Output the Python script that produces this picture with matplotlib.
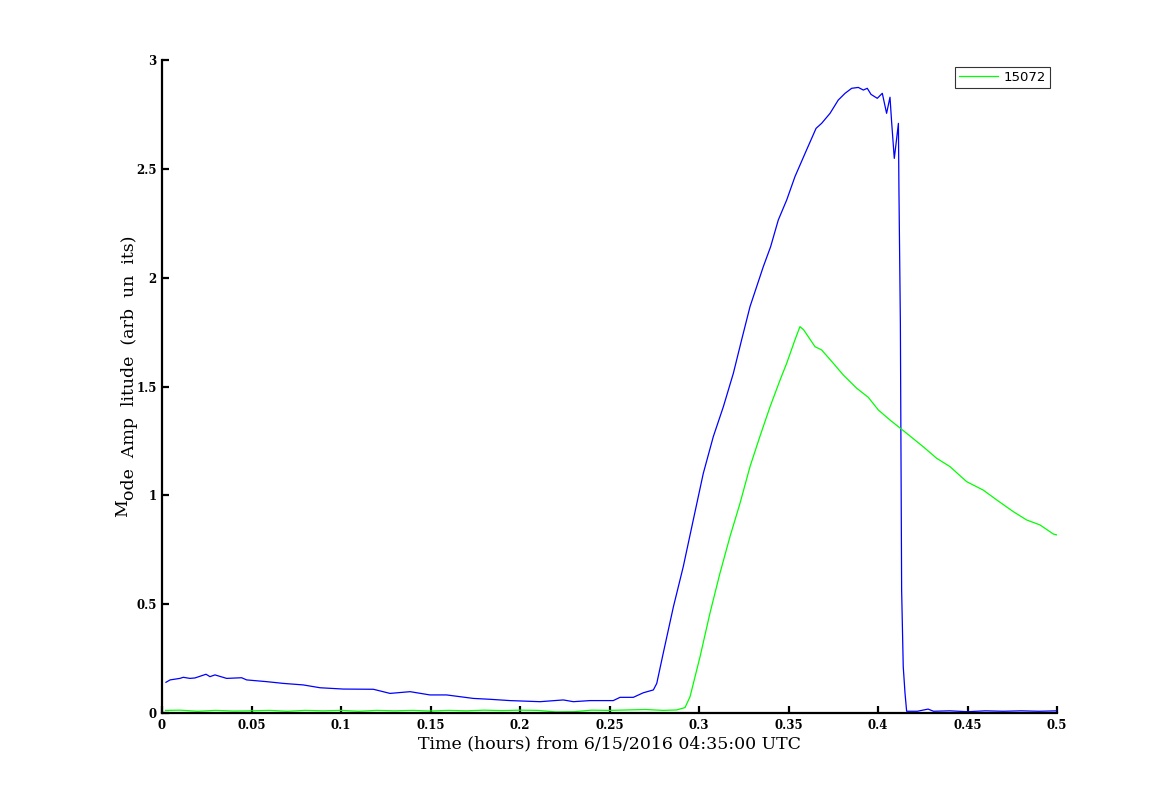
import matplotlib
matplotlib.use("Agg")
import matplotlib.pyplot as plt
import numpy as np

# ---- data ----
blue_t = [0.0022, 0.0045, 0.010, 0.0119, 0.0156, 0.0184, 0.0246, 0.0268, 0.0296, 0.0361,
          0.0445, 0.0473, 0.0585, 0.0678, 0.0789, 0.0883, 0.1013, 0.1181, 0.1274, 0.1386,
          0.1497, 0.159, 0.1739, 0.1832, 0.1944, 0.2112, 0.2242, 0.2298, 0.2391, 0.2521,
          0.2559, 0.2633, 0.2689, 0.2745, 0.2764, 0.280, 0.2857, 0.2912, 0.2968, 0.3024,
          0.308, 0.3136, 0.3192, 0.3238, 0.3285, 0.3359, 0.340, 0.3443, 0.349, 0.3536,
          0.3601, 0.3654, 0.3685, 0.3732, 0.3778, 0.3816, 0.3853, 0.389, 0.3918, 0.394,
          0.3961, 0.3996, 0.4024, 0.4048, 0.4067, 0.4076, 0.4091, 0.410, 0.4114, 0.4117,
          0.4125, 0.4132, 0.4141, 0.4151, 0.416, 0.422, 0.428, 0.431, 0.44, 0.45,
          0.46, 0.47, 0.48, 0.49, 0.5]
blue_v = [0.141, 0.152, 0.159, 0.164, 0.159, 0.161, 0.178, 0.167, 0.175, 0.159,
          0.162, 0.152, 0.144, 0.136, 0.129, 0.116, 0.110, 0.109, 0.090, 0.098,
          0.083, 0.083, 0.067, 0.063, 0.057, 0.052, 0.060, 0.052, 0.057, 0.057,
          0.072, 0.072, 0.093, 0.106, 0.136, 0.274, 0.488, 0.672, 0.887, 1.101,
          1.270, 1.407, 1.561, 1.714, 1.867, 2.050, 2.142, 2.265, 2.357, 2.464,
          2.587, 2.686, 2.709, 2.755, 2.816, 2.847, 2.870, 2.874, 2.862, 2.870,
          2.842, 2.824, 2.847, 2.755, 2.829, 2.717, 2.548, 2.610, 2.709, 2.403,
          1.790, 0.565, 0.213, 0.090, 0.008, 0.008, 0.018, 0.008, 0.010, 0.006,
          0.010, 0.008, 0.010, 0.008, 0.010]

green_t = [0.002, 0.01, 0.02, 0.03, 0.04, 0.05, 0.06, 0.07, 0.08, 0.09,
           0.10, 0.11, 0.12, 0.13, 0.14, 0.15, 0.16, 0.17, 0.18, 0.19,
           0.20, 0.21, 0.22, 0.23, 0.24, 0.25, 0.26, 0.27, 0.28, 0.2875,
           0.2922, 0.295, 0.3006, 0.3061, 0.3117, 0.3173, 0.3229, 0.3285, 0.334, 0.3397,
           0.3453, 0.349, 0.3536, 0.3564, 0.3585, 0.3648, 0.3685, 0.375, 0.3806, 0.3881,
           0.3946, 0.4002, 0.4067, 0.416, 0.4253, 0.4328, 0.4402, 0.4495, 0.4588, 0.4663,
           0.4756, 0.483, 0.4905, 0.498, 0.5]
green_v = [0.012, 0.013, 0.008, 0.012, 0.009, 0.010, 0.012, 0.008, 0.012, 0.010,
           0.012, 0.008, 0.012, 0.010, 0.012, 0.009, 0.012, 0.010, 0.013, 0.011,
           0.013, 0.012, 0.005, 0.006, 0.013, 0.012, 0.014, 0.016, 0.012, 0.014,
           0.025, 0.075, 0.259, 0.458, 0.642, 0.810, 0.963, 1.132, 1.270, 1.407,
           1.530, 1.607, 1.714, 1.775, 1.760, 1.683, 1.668, 1.607, 1.553, 1.492,
           1.450, 1.392, 1.346, 1.285, 1.223, 1.170, 1.132, 1.063, 1.024, 0.979,
           0.925, 0.887, 0.864, 0.822, 0.818]

xticks = [0, 0.05, 0.1, 0.15, 0.2, 0.25, 0.3, 0.35, 0.4, 0.45, 0.5]
xticklabels = ["0", "0.05", "0.1", "0.15", "0.2", "0.25", "0.3", "0.35", "0.4", "0.45", "0.5"]
yticks = [0, 0.5, 1, 1.5, 2, 2.5, 3]
yticklabels = ["0", "0.5", "1", "1.5", "2", "2.5", "3"]

W, H = 1167, 802
fig = plt.figure(figsize=(W / 100, H / 100), dpi=100)
ax = fig.add_axes([162 / W, 1 - 713 / H, (1057 - 162) / W, (713 - 60) / H])

ax.plot(blue_t, blue_v, color=(0, 0, 1), lw=0.9)
ax.plot(green_t, green_v, color=(0, 1, 0), lw=0.9, label="15072")

ax.set_xlim(0, 0.5)
ax.set_ylim(0, 3)
ax.set_xticks(xticks)
ax.set_xticklabels(xticklabels)
ax.set_yticks(yticks)
ax.set_yticklabels(yticklabels)

for s in ["top", "right"]:
    ax.spines[s].set_visible(False)
for s in ["left", "bottom"]:
    ax.spines[s].set_linewidth(1.6)
ax.tick_params(direction="in", length=5, width=1.6, pad=4)
for lab in ax.get_xticklabels() + ax.get_yticklabels():
    lab.set_fontfamily("DejaVu Serif")
    lab.set_fontweight("bold")
    lab.set_fontsize(8.5)

ax.set_xlabel("Time (hours) from 6/15/2016 04:35:00 UTC", fontfamily="DejaVu Serif",
              fontsize=12.5, labelpad=3)

# y label rendered as in the reference (M then shifted remainder)
fig.text(123 / W, 1 - 517 / H, "M", rotation=90, fontfamily="DejaVu Serif", fontsize=12.5,
         ha="center", va="bottom")
fig.text(129 / W, 1 - 500 / H, "ode  Amp  litude  (arb  un  its)", rotation=90,
         fontfamily="DejaVu Serif", fontsize=12.5, ha="center", va="bottom")

leg = ax.legend(loc="upper right", bbox_to_anchor=(1050 / W, 1 - 67 / H),
                bbox_transform=fig.transFigure, frameon=True, fancybox=False,
                prop={"family": "DejaVu Sans", "size": 9.5}, handlelength=3.0,
                borderpad=0.3, handletextpad=0.4, borderaxespad=0)
leg.get_frame().set_edgecolor("black")
leg.get_frame().set_linewidth(0.8)

fig.savefig("out.png", dpi=100)
